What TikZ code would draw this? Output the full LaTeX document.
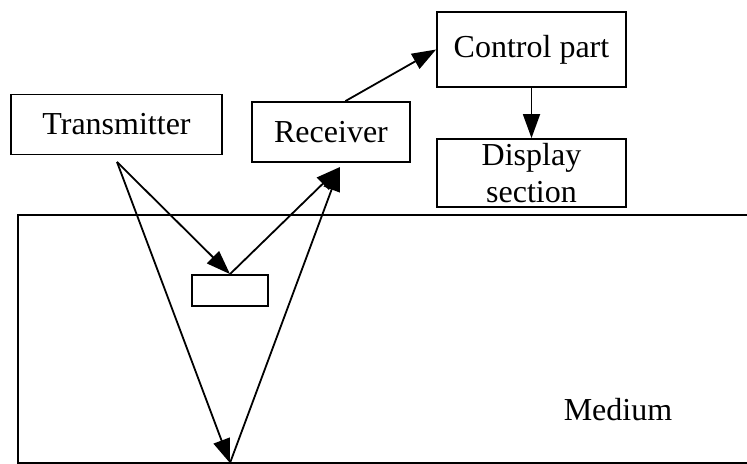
\documentclass[tikz,border=0pt]{standalone}
\usepackage{fontspec}
\setmainfont{Liberation Serif}
\usepackage{tikz}
\usetikzlibrary{positioning,arrows.meta}

\begin{document}
\begin{tikzpicture}[x=0.5pt,y=-0.5pt,
  box/.style={draw, line width=0.9pt, inner sep=0pt, font=\fontsize{16}{18.5}\selectfont, align=center},
  arr/.style={line width=0.9pt, -{Triangle[length=12pt,width=8.5pt]}}]
\useasboundingbox (0,0) rectangle (747,464);
% units and parts
\node[box, minimum width=105.5pt, minimum height=30pt] (trans) at (116.5,124.5) {Transmitter};
\node[box, minimum width=79pt, minimum height=30pt] (recv) at (331,132) {Receiver};
\node[box, minimum width=94.5pt, minimum height=37.5pt] (ctrl) at (531.5,49.5) {Control part};
\node[box, minimum width=94.5pt, minimum height=34pt] (disp) at (531.5,173) {Display\\section};
\node[box, minimum width=38pt, minimum height=15.5pt] (target) at (230,290.5) {};
% medium
\draw[line width=0.9pt] (747,215) -- (18,215) -- (18,463) -- (747,463);
\node[font=\fontsize{16}{18.5}\selectfont] (medium) at (618,410) {Medium};
% ray points
\coordinate (tx) at (117,162);
\coordinate (rx) at (340,167);
\coordinate (hit) at (230,463);
% rays
\draw[arr] (tx) -- (target.north);
\draw[arr] (tx) -- (hit);
\draw[arr] (target.north) -- (rx);
\draw[arr] (hit) -- (rx);
\draw[arr] (recv.65) -- (ctrl.west);
\draw[arr] (ctrl) -- (disp);
\end{tikzpicture}
\end{document}
